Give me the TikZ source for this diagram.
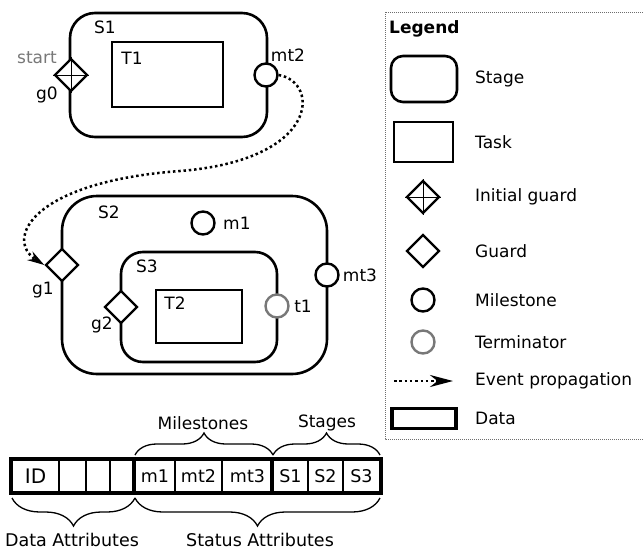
\documentclass[tikz,border=0pt]{standalone}
\usepackage{fontspec}
\setmainfont{DejaVu Sans}
\usetikzlibrary{shapes.geometric,arrows.meta,decorations.pathreplacing}
\definecolor{termgray}{RGB}{120,120,120}
\definecolor{framegray}{RGB}{110,110,110}
\tikzset{
  stage/.style={rectangle,draw,line width=2.6pt,inner sep=0pt},
  task/.style={rectangle,draw,line width=2.6pt,inner sep=0pt},
  guard/.style={diamond,draw,fill=white,line width=2.4pt,inner sep=0pt,
                minimum width=33pt,minimum height=33pt},
  mstone/.style={circle,draw,fill=white,line width=2.4pt,inner sep=0pt,minimum size=23pt},
  term/.style={mstone,draw=termgray},
  lbl/.style={inner sep=0pt,font=\fontsize{17}{20}\selectfont},
  evt/.style={line width=2.5pt,dash pattern=on 2.5pt off 2.8pt,
              -{Stealth[length=17pt,width=10pt]}},
  cell/.style={rectangle,draw,line width=1.6pt,inner sep=0pt,minimum height=32pt,
               font=\fontsize{17.5}{20}\selectfont},
  brc/.style={decorate,decoration={brace,amplitude=22pt},line width=1.3pt},
}
\begin{document}
\begin{tikzpicture}[x=1pt,y=-1pt]
  \useasboundingbox (0,0) rectangle (643,552);
  % -- stage S1 with task T1 --
  \node[stage,rounded corners=25pt,minimum width=197pt,minimum height=124pt] (s1) at (168.5,75) {};
  \node[task,minimum width=111pt,minimum height=65pt] (t1box) at (167.5,74.5) {};
  \node[guard] (g0) at (71,75) {};
  \draw[line width=1pt] (g0.north) -- (g0.south) (g0.west) -- (g0.east);
  \node[mstone] (mt2) at (266,75) {};
  \node[lbl] (s1lbl) at (105,27) {S1};
  \node[lbl] (t1lbl) at (132,58) {T1};
  \node[lbl,text=termgray] (start) at (37,58) {start};
  \node[lbl] (g0lbl) at (47,95) {g0};
  \node[lbl] (mt2lbl) at (288,55) {mt2};
  % -- stage S2 with nested stage S3 --
  \node[stage,rounded corners=35pt,minimum width=265pt,minimum height=178pt] (s2) at (194.5,285) {};
  \node[stage,rounded corners=22pt,minimum width=156pt,minimum height=110pt] (s3) at (199,307) {};
  \node[task,minimum width=86pt,minimum height=53pt] (t2box) at (199,316.5) {};
  \node[guard] (g1) at (62,265) {};
  \node[guard] (g2) at (121,307) {};
  \node[mstone] (m1) at (203,223) {};
  \node[mstone] (mt3) at (327,275) {};
  \node[term] (t1) at (277,306) {};
  \node[lbl] (s2lbl) at (109,212) {S2};
  \node[lbl] (s3lbl) at (147,266) {S3};
  \node[lbl] (t2lbl) at (175,303) {T2};
  \node[lbl,anchor=west] (m1lbl) at (223,223) {m1};
  \node[lbl] (g1lbl) at (43,290) {g1};
  \node[lbl] (g2lbl) at (102,325) {g2};
  \node[lbl] (mt3lbl) at (360,275) {mt3};
  \node[lbl] (t1lbl2) at (303,306) {t1};
  % -- event propagation mt2 -> g1 --
  \draw[evt] (mt2.east) .. controls (320,82) and (320,160) .. (180,171)
        .. controls (30,182) and (5,240) .. (g1.west);
  % -- legend --
  \draw[framegray,line width=1pt,dash pattern=on 1pt off 1pt]
    (643,12) -- (385,12) -- (385,439) -- (643,439);
  \node[inner sep=0pt,font=\fontsize{17}{20}\selectfont\bfseries,anchor=west] (leg) at (389,29) {Legend};
  \node[stage,rounded corners=12pt,minimum width=66pt,minimum height=46pt] (lstage) at (424,79) {};
  \node[task,minimum width=59pt,minimum height=40pt] (ltask) at (423.5,142) {};
  \node[guard] (lig) at (423,197) {};
  \draw[line width=1pt] (lig.north) -- (lig.south) (lig.west) -- (lig.east);
  \node[guard] (lg) at (423,251) {};
  \node[mstone] (lm) at (423,300) {};
  \node[term] (lt) at (423,342) {};
  \coordinate (levs) at (394,381);
  \coordinate (leve) at (453,381);
  \draw[evt,-{Stealth[length=23pt,width=12pt]}] (levs) -- (leve);
  \node[rectangle,draw,line width=3.6pt,minimum width=64pt,minimum height=20pt,inner sep=0pt] (ldata) at (424,418.5) {};
  \foreach \y/\t [count=\i] in {79/Stage,142/Task,197/Initial guard,251/Guard,300/Milestone,
                                342/Terminator,381/Event propagation,418/Data}
    \node[lbl,anchor=west] (ltxt\i) at (475,\y) {\t};
  % -- data bar --
  \foreach \a/\b/\t [count=\i] in {12/59/{\fontsize{20}{22}\selectfont ID},59/86/,86/110/,110/135/,
                                   135/175/m1,175/222/mt2,222/273/mt3,273/308/S1,308/343/S2,343/380/S3}
    \node[cell,minimum width={(\b-\a)*1pt}] (c\i) at ({(\a+\b)/2},476) {\t};
  \draw[line width=3.6pt] (c1.north west) rectangle (c10.south east);
  \draw[line width=3.6pt] (c5.north west) -- (c5.south west);
  \draw[line width=3.6pt] (c8.north west) -- (c8.south west);
  % -- braces --
  \draw[brc] (135,455) -- (273,455);
  \draw[brc] (273,455) -- (380,455);
  \draw[brc,decoration={brace,mirror,amplitude=28pt}] (12,498) -- (135,498);
  \draw[brc,decoration={brace,mirror,amplitude=28pt}] (135,498) -- (380,498);
  \node[lbl] (mslbl) at (203,423) {Milestones};
  \node[lbl] (stlbl) at (327,423) {Stages};
  \node[lbl,font=\fontsize{17.5}{20}\selectfont] (dalbl) at (72,540) {Data Attributes};
  \node[lbl,font=\fontsize{17.5}{20}\selectfont] (salbl) at (260,540) {Status Attributes};
\end{tikzpicture}
\end{document}
